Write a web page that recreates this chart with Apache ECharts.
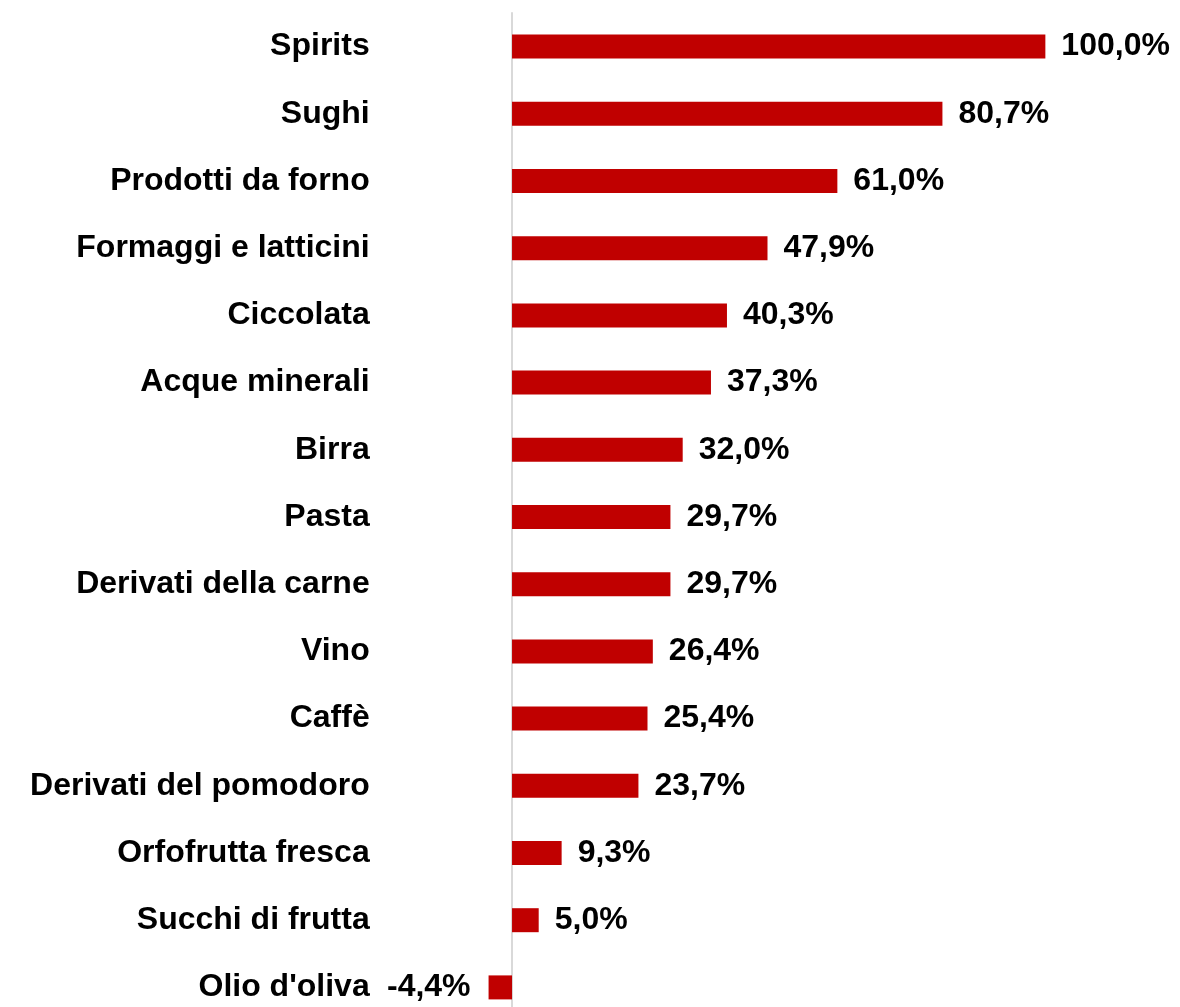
<!DOCTYPE html>
<html>
<head>
<meta charset="utf-8">
<title>chart</title>
<script type="text/javascript" src="https://cdn.jsdelivr.net/npm/echarts@6/dist/echarts.min.js"></script>
</head>
<body style="margin:0;overflow:hidden">
	<div id="container" style="width:1180px;height:1021px;"></div>
	<script type="text/javascript">
	var categories = ['Spirits', 'Sughi', 'Prodotti da forno', 'Formaggi e latticini', 'Ciccolata',
		'Acque minerali', 'Birra', 'Pasta', 'Derivati della carne', 'Vino', 'Caffè',
		'Derivati del pomodoro', 'Orfofrutta fresca', 'Succhi di frutta', "Olio d'oliva"];
	var values = [100.0, 80.7, 61.0, 47.9, 40.3, 37.3, 32.0, 29.7, 29.7, 26.4, 25.4, 23.7, 9.3, 5.0, -4.4];

	var fontName = 'Liberation Sans';
	var myChart = echarts.init(document.getElementById('container'));

	// the last band runs past the bottom of the window, as in the original
	var option = {
		animation: false,
		grid: { left: 458.7, top: 13, width: 640, height: 1008 },
		xAxis: {
			type: 'value', min: -10, max: 110,
			axisLine: { show: false }, axisTick: { show: false },
			axisLabel: { show: false }, splitLine: { show: false }
		},
		yAxis: {
			type: 'category', inverse: true, data: categories,
			axisLine: { onZero: true, lineStyle: { color: '#d9d9d9', width: 2 } },
			axisTick: { show: false },
			axisLabel: {
				margin: 89, color: '#000', fontFamily: fontName, fontWeight: 'bold', fontSize: 32,
				padding: [5, 0, 0, 0]
			}
		},
		series: [{
			type: 'bar',
			barWidth: 24,
			data: values.map(function (v) {
				return {
					value: v,
					label: { position: v < 0 ? 'left' : 'right', distance: v < 0 ? 18 : 16 }
				};
			}),
			itemStyle: { color: '#c00000' },
			label: {
				show: true, color: '#000',
				fontFamily: fontName, fontWeight: 'bold', fontSize: 32,
				padding: [5, 0, 0, 0],
				formatter: function (p) { return p.value.toFixed(1).replace('.', ',') + '%'; }
			}
		}]
	};
	myChart.setOption(option);
	</script>
</body>
</html>
